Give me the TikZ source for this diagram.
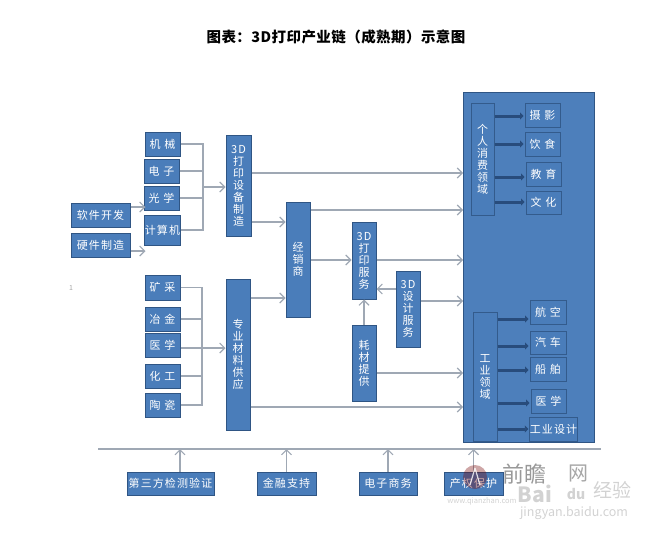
\documentclass[tikz,border=0pt]{standalone}
\usepackage{fontspec}
\setmainfont{Noto Sans CJK SC}
\newfontfamily\boxfont[LetterSpace=10]{Noto Sans CJK SC}
\newfontfamily\titlefont[LetterSpace=3]{Noto Sans CJK SC}
\usetikzlibrary{arrows.meta}
\definecolor{boxfill}{HTML}{4A7DBA}
\definecolor{boxedge}{HTML}{2F5584}
\definecolor{bigfill}{HTML}{4D7FBB}
\definecolor{linkgray}{HTML}{9FA8B4}
\definecolor{wmgray}{HTML}{D2D2D2}
\definecolor{darkarrow}{HTML}{284C7C}
\tikzset{
  bluebox/.style={draw=boxedge,fill=boxfill,line width=1pt,inner sep=0pt,text=white,align=center,font=\boxfont\fontsize{11}{12}\selectfont},
  innerbox/.style={bluebox,draw=boxedge!85!boxfill},
  link/.style={draw=linkgray,line width=1.2pt},
  linkarrow/.style={link,-{Straight Barb[length=5pt,width=10pt,line width=1.1pt]}},
  thickarrow/.style={draw=darkarrow,line width=3pt,-{Triangle[length=3.5pt,width=7pt]}},
  wmtext/.style={text=wmgray,inner sep=0pt},
}
\newcommand{\bx}[7][bluebox]{\node[#1,minimum width={(#5-#3)*1pt},minimum height={(#6-#4)*1pt}] (#2) at ({(#3+#5)/2},{(#4+#6)/2}) {#7};}
\begin{document}
\begin{tikzpicture}[x=1pt,y=-1pt]
\useasboundingbox (0,0) rectangle (671,535);
\node[font=\titlefont\bfseries\fontsize{14.5}{16}\selectfont] (title) at (336,37) {图表：3D打印产业链（成熟期）示意图};
\node[text=gray!70,font=\fontsize{7}{8}\selectfont,inner sep=0pt] (stray) at (71,288) {1};

% level coordinates
\foreach \v in {173,187,210,222,260,289,298,301,373,407,449}{\coordinate (y\v) at (0,\v);}

% big panel
\bx[draw=boxedge,fill=bigfill,line width=1pt]{big}{463.5}{92.5}{594}{442}{}

% left column
\bx{jx}{145}{132}{180}{156}{机 械}
\bx{dz}{144}{159}{179}{183}{电 子}
\bx{gx}{144}{186}{179}{210}{光 学}
\bx{js}{145}{215}{180}{245}{计算机}
\bx{rj}{71}{203}{130}{227}{软件开发}
\bx{yj}{71}{233}{130}{257}{硬件制造}
\bx{kc}{145}{275}{180}{300}{矿 采}
\bx{yz}{145}{307}{180}{331}{冶 金}
\bx{yx}{145}{333}{180}{357}{医 学}
\bx{hg}{145}{364}{180}{388}{化 工}
\bx{tc}{145}{393}{180}{417}{陶 瓷}
\bx{sb}{226}{135}{251}{236}{3D\\打\\印\\设\\备\\制\\造}
\bx{cl}{226}{279}{250}{430}{专\\业\\材\\料\\供\\应}
\bx{jxs}{286}{202}{310}{317}{经\\销\\商}
\bx{dy}{352}{222}{376}{299}{3D\\打\\印\\服\\务}
\bx{sj}{396}{271}{420}{347}{3D\\设\\计\\服\\务}
\bx{hc}{352}{325}{376}{401}{耗\\材\\提\\供}

% inside panel
\bx[innerbox]{gr}{471}{103}{494}{215}{个\\人\\消\\费\\领\\域}
\bx[innerbox]{sy}{525}{103}{560}{127}{摄 影}
\bx[innerbox]{ys}{525}{132}{560}{156}{饮 食}
\bx[innerbox]{jy}{526}{162}{561}{186}{教 育}
\bx[innerbox]{wh}{526}{191}{561}{214}{文 化}
\bx[innerbox]{gy}{473}{312}{497}{441}{工\\业\\领\\域}
\bx[innerbox]{hk}{530}{300}{566}{324}{航 空}
\bx[innerbox]{qc}{530}{331}{566}{354}{汽 车}
\bx[innerbox]{cb}{530}{357}{566}{381}{船 舶}
\bx[innerbox]{yx2}{531}{389}{566}{413}{医 学}
\bx[innerbox]{gs}{530}{417}{577}{441}{工业设计}

% bottom row
\bx{dsf}{127}{472}{214}{495}{第三方检测验证}
\bx{jr}{257}{472}{316}{495}{金融支持}
\bx{ds}{359}{472}{417}{495}{电子商务}
\bx{cq}{444}{472}{503}{495}{产权保护}

% baseline bar
\coordinate (barL) at (98,449);
\coordinate (barR) at (601,449);
\draw[link] (barL) -- (barR);
\draw[linkarrow] ([xshift=9.5pt]dsf.north) -- ++(0,-22.5);
\draw[linkarrow] (jr.north) -- ++(0,-22.5);
\draw[linkarrow] (ds.north) -- ++(0,-22.5);
\draw[linkarrow] (cq.north) -- ++(0,-22.5);

% equipment collectors
\coordinate (busA) at (203,187);
\draw[link] (jx.east) -| (busA);
\draw[link] (js.east) -| (busA);
\draw[link] (dz.east) -- (dz.east -| busA);
\draw[link] (gx.east) -- (gx.east -| busA);
\draw[linkarrow] (busA) -- (sb.west |- busA);
\draw[linkarrow] ([yshift=8pt]rj.east) -- ++(15,0);
\draw[linkarrow] ([yshift=-6pt]yj.east) -- ++(15,0);

% material collectors
\coordinate (busB) at (202,348);
\draw[link] (kc.east) -| (busB);
\draw[link] (tc.east) -| (busB);
\draw[link] (yz.east) -- (yz.east -| busB);
\draw[link] (hg.east) -- (hg.east -| busB);
\draw[linkarrow] (yx.east |- busB) -- (cl.west |- busB);

% flows to the right
\draw[linkarrow] (sb.east |- 0,173) -- (big.west |- 0,173);
\draw[linkarrow] (sb.east |- y222) -- (jxs.west |- y222);
\draw[linkarrow] (cl.east |- y298) -- (jxs.west |- y298);
\draw[linkarrow] (cl.east |- y407) -- (big.west |- y407);
\draw[linkarrow] (jxs.east |- y210) -- (big.west |- y210);
\draw[linkarrow] (jxs.east |- y260) -- (dy.west |- y260);
\draw[linkarrow] (dy.east |- y260) -- (big.west |- y260);
\draw[linkarrow] (sj.west |- y289) -- (dy.east |- y289);
\draw[linkarrow] (sj.east |- y301) -- (big.west |- y301);
\draw[linkarrow] (hc.north) -- (dy.south);
\draw[linkarrow] (hc.east |- y373) -- (big.west |- y373);

% inside arrows
\foreach \a/\b/\yy in {gr/sy/116,gr/ys/144,gr/jy/177,gr/wh/202}{
  \draw[thickarrow] (\a.east |- 0,\yy) -- ([xshift=-1pt]\b.west |- 0,\yy);}
\foreach \a/\b/\yy in {gy/hk/319,gy/qc/346,gy/cb/370,gy/yx2/403,gy/gs/429}{
  \draw[thickarrow] (\a.east |- 0,\yy) -- ([xshift=-1pt]\b.west |- 0,\yy);}

% watermark
\fill[red!45!black,opacity=.35] (475,477) circle (12);
\draw[white,opacity=.8,line width=1.2pt] (475,468) -- (470,485) (475,468) -- (480,485);
\node[wmtext,text=gray!80,font=\fontsize{22}{22}\selectfont] (wmq) at (524,474) {前瞻};
\node[wmtext,text=gray!70,font=\fontsize{20}{20}\selectfont] (wmw) at (578,473) {网};
\node[wmtext,font=\bfseries\fontsize{21}{21}\selectfont] (wmb) at (535,494) {Bai};
\node[wmtext,font=\bfseries\fontsize{14}{14}\selectfont] (wmd) at (576,494) {du};
\node[wmtext,font=\fontsize{19}{19}\selectfont] (wmj) at (612,490) {经验};
\node[wmtext,font=\fontsize{12.5}{13}\selectfont] (wmu) at (574,513) {jingyan.baidu.com};
\node[wmtext,font=\fontsize{7.5}{8}\selectfont] (wmz) at (482,501) {www.qianzhan.com};
\end{tikzpicture}
\end{document}
